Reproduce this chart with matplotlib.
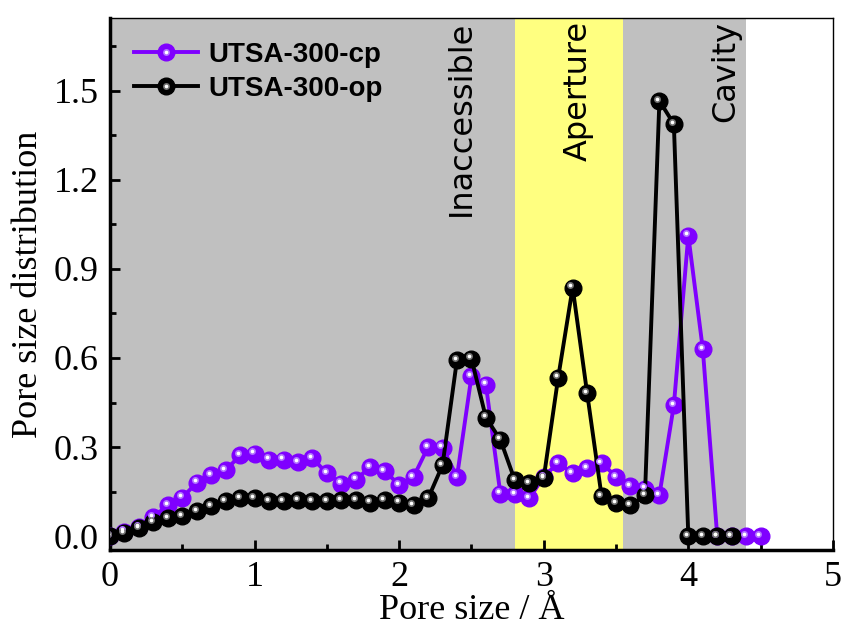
import numpy as np
import matplotlib
matplotlib.use("Agg")
import matplotlib.pyplot as plt
from matplotlib.ticker import MultipleLocator, FormatStrFormatter
from matplotlib.transforms import offset_copy
from matplotlib.legend_handler import HandlerTuple

# pore size grid (Angstrom)
size_cp = [0.0, 0.1, 0.2, 0.3, 0.4, 0.5, 0.6, 0.7, 0.8, 0.9,
           1.0, 1.1, 1.2, 1.3, 1.4, 1.5, 1.6, 1.7, 1.8, 1.9,
           2.0, 2.1, 2.2, 2.3, 2.4, 2.5, 2.6, 2.7, 2.8, 2.9,
           3.0, 3.1, 3.2, 3.3, 3.4, 3.5, 3.6, 3.7, 3.8, 3.9,
           4.0, 4.1, 4.2, 4.3, 4.4, 4.5]
psd_cp = [0.0, 0.015, 0.031, 0.065, 0.104, 0.13, 0.18, 0.205, 0.222, 0.272,
          0.278, 0.258, 0.258, 0.25, 0.263, 0.211, 0.177, 0.19, 0.233, 0.22,
          0.172, 0.2, 0.30, 0.298, 0.2, 0.538, 0.51, 0.143, 0.141, 0.127,
          0.2, 0.247, 0.211, 0.228, 0.247, 0.2, 0.168, 0.16, 0.138, 0.441,
          1.012, 0.631, 0.0, 0.0, 0.0, 0.0]

size_op = [0.0, 0.1, 0.2, 0.3, 0.4, 0.5, 0.6, 0.7, 0.8, 0.9,
           1.0, 1.1, 1.2, 1.3, 1.4, 1.5, 1.6, 1.7, 1.8, 1.9,
           2.0, 2.1, 2.2, 2.3, 2.4, 2.5, 2.6, 2.7, 2.8, 2.9,
           3.0, 3.1, 3.2, 3.3, 3.4, 3.5, 3.6, 3.7, 3.8, 3.9,
           4.0, 4.1, 4.2, 4.3]
psd_op = [0.0, 0.011, 0.026, 0.048, 0.06, 0.068, 0.085, 0.10, 0.118, 0.127,
          0.129, 0.118, 0.118, 0.121, 0.118, 0.118, 0.121, 0.121, 0.113, 0.121,
          0.113, 0.104, 0.127, 0.239, 0.594, 0.598, 0.399, 0.325, 0.188, 0.179,
          0.196, 0.534, 0.837, 0.482, 0.135, 0.112, 0.104, 0.137, 1.466, 1.388,
          0.0, 0.0, 0.0, 0.0]

# shaded pore regions: (start, end, colour, label, label x)
regions = [(0.0, 2.8, "#C0C0C0", "Inaccessible", 2.43),
           (2.8, 3.55, "#FFFF80", "Aperture", 3.24),
           (3.55, 4.4, "#C0C0C0", "Cavity", 4.26)]

serif = ["Liberation Serif", "DejaVu Serif"]

fig = plt.figure(figsize=(8.43, 6.33), dpi=100)
ax = fig.add_axes([0.1305, 0.131, 0.8575, 0.8406])

for x0, x1, col, lab, xt in regions:
    ax.axvspan(x0, x1, color=col, lw=0, zorder=0)
    ax.text(xt, 1.735, lab, rotation=90, ha="center", va="top",
            fontsize=23, family="DejaVu Sans", zorder=1)

MS = 12


def sphere_line(x, y, col, mid, label):
    line, = ax.plot(x, y, "-o", color=col, lw=2.8, ms=MS, mec=col,
                    mfc=col, label=label, zorder=3)
    # glossy highlight on each ball
    tr = offset_copy(ax.transData, fig=fig, x=-1.6, y=1.6, units="points")
    ax.plot(x, y, "o", ms=MS * 0.42, color=mid, mec="none", transform=tr, zorder=4)
    ax.plot(x, y, "o", ms=MS * 0.22, color="white", mec="none",
            transform=tr, zorder=5)
    return line


l_cp = sphere_line(size_cp, psd_cp, "#7F00FF", "#B070FF", "UTSA-300-cp")
l_op = sphere_line(size_op, psd_op, "black", "#707070", "UTSA-300-op")

# legend handles with the highlight dot overlaid
h_cp = (l_cp, ax.plot([], [], "o", ms=MS * 0.42, color="#B070FF", mec="none")[0],
        ax.plot([], [], "o", ms=MS * 0.22, color="white", mec="none")[0])
h_op = (l_op, ax.plot([], [], "o", ms=MS * 0.42, color="#707070", mec="none")[0],
        ax.plot([], [], "o", ms=MS * 0.22, color="white", mec="none")[0])
leg = ax.legend([h_cp, h_op], ["UTSA-300-cp", "UTSA-300-op"],
                handler_map={tuple: HandlerTuple(ndivide=1)},
                loc="upper left", bbox_to_anchor=(0.0, 1.0), frameon=False,
                handlelength=2.3, handletextpad=0.4, labelspacing=0.3,
                borderaxespad=0.45,
                prop={"family": "Liberation Sans", "weight": "bold", "size": 20})

ax.set_xlim(0, 5)
ax.set_ylim(-0.047, 1.745)
ax.xaxis.set_major_locator(MultipleLocator(1))
ax.xaxis.set_minor_locator(MultipleLocator(0.5))
ax.yaxis.set_major_locator(MultipleLocator(0.3))
ax.yaxis.set_minor_locator(MultipleLocator(0.15))
ax.yaxis.set_major_formatter(FormatStrFormatter("%.1f"))
ax.tick_params(which="both", direction="in", width=2.0, top=False, right=False)
ax.tick_params(which="major", length=7, pad=8)
ax.tick_params(which="minor", length=4.5)
ax.spines["left"].set_linewidth(2.5)
ax.spines["bottom"].set_linewidth(2.5)
ax.spines["top"].set_linewidth(1.0)
ax.spines["right"].set_linewidth(1.0)
for lab in ax.get_xticklabels() + ax.get_yticklabels():
    lab.set_family(serif)
    lab.set_fontsize(26)

ax.set_xlabel("Pore size / Å", family=serif, fontsize=26, labelpad=0)
ax.set_ylabel("Pore size distribution", family=serif, fontsize=26, labelpad=6)

fig.savefig("out.png", dpi=100)
